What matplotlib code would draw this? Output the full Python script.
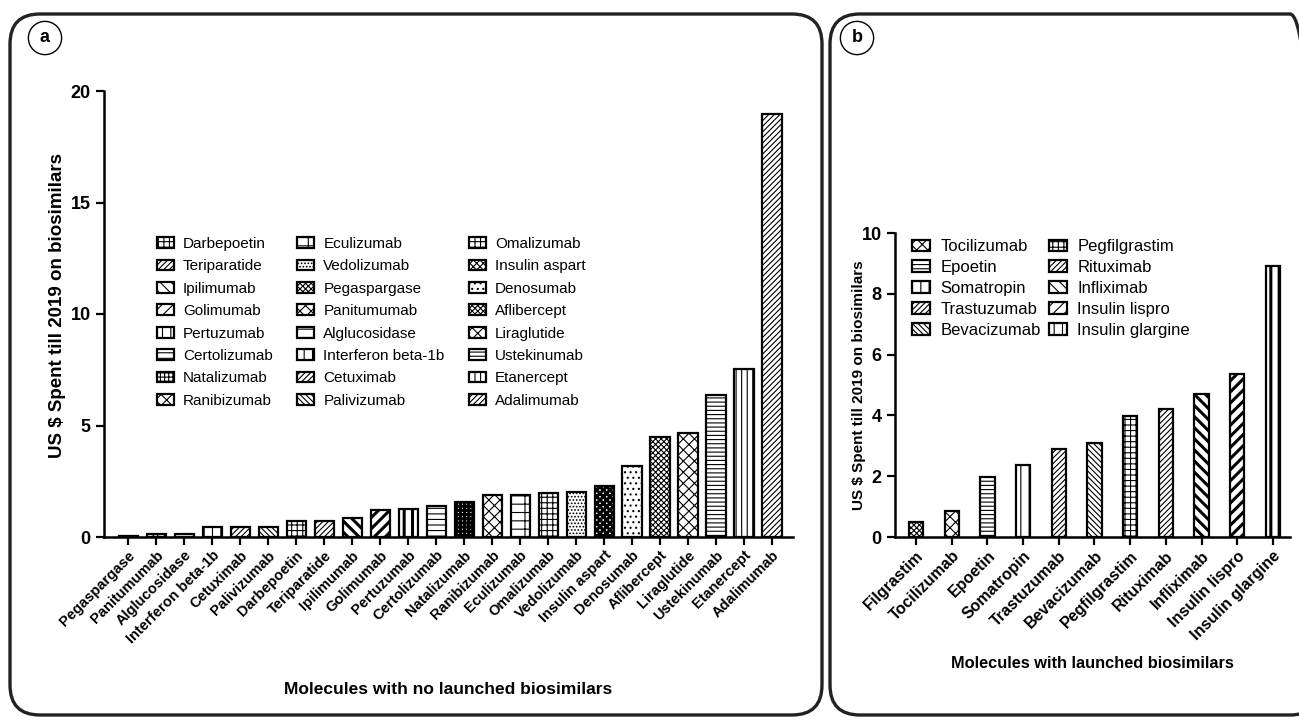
import matplotlib.pyplot as plt
from matplotlib.patches import FancyBboxPatch

plt.rcParams['font.family'] = ['Liberation Sans', 'DejaVu Sans']
plt.rcParams['hatch.linewidth'] = 0.8

# panel a: molecules with no launched biosimilars
mol_a = ['Pegaspargase', 'Panitumumab', 'Alglucosidase', 'Interferon beta-1b', 'Cetuximab',
         'Palivizumab', 'Darbepoetin', 'Teriparatide', 'Ipilimumab', 'Golimumab',
         'Pertuzumab', 'Certolizumab', 'Natalizumab', 'Ranibizumab', 'Eculizumab',
         'Omalizumab', 'Vedolizumab', 'Insulin aspart', 'Denosumab', 'Aflibercept',
         'Liraglutide', 'Ustekinumab', 'Etanercept', 'Adalimumab']
spend_a = [0.05, 0.15, 0.15, 0.45, 0.45, 0.45, 0.7, 0.7, 0.85, 1.2,
           1.25, 1.38, 1.58, 1.87, 1.87, 1.97, 2.04, 2.27, 3.17, 4.47,
           4.67, 6.37, 7.52, 18.95]
hatch_a = ['xxxxxx', 'xxx', '--', '||', '//////', '\\\\\\\\\\\\', '+++', '//////', '\\\\\\', '///',
           '||', '---', '++++', 'xxx', '+-', '+++', '.....', 'xxxxx', '...', 'xxxxxx',
           'xxx', '----', '|||', '//////']
legend_a = ['Darbepoetin', 'Teriparatide', 'Ipilimumab', 'Golimumab', 'Pertuzumab',
            'Certolizumab', 'Natalizumab', 'Ranibizumab',
            'Eculizumab', 'Vedolizumab', 'Pegaspargase', 'Panitumumab', 'Alglucosidase',
            'Interferon beta-1b', 'Cetuximab', 'Palivizumab',
            'Omalizumab', 'Insulin aspart', 'Denosumab', 'Aflibercept', 'Liraglutide',
            'Ustekinumab', 'Etanercept', 'Adalimumab']

# panel b: molecules with launched biosimilars
mol_b = ['Filgrastim', 'Tocilizumab', 'Epoetin', 'Somatropin', 'Trastuzumab', 'Bevacizumab',
         'Pegfilgrastim', 'Rituximab', 'Infliximab', 'Insulin lispro', 'Insulin glargine']
spend_b = [0.5, 0.87, 1.97, 2.38, 2.88, 3.08, 3.98, 4.2, 4.7, 5.35, 8.9]
hatch_b = ['xxxxxx', 'xxx', '----', '||', '//////', '\\\\\\\\\\\\', '+++', '//////', '\\\\\\', '///', '||']
legend_b = ['Tocilizumab', 'Epoetin', 'Somatropin', 'Trastuzumab', 'Bevacizumab',
            'Pegfilgrastim', 'Rituximab', 'Infliximab', 'Insulin lispro', 'Insulin glargine']

# bars whose stripes are drawn thick in the original
thick = {'Ipilimumab', 'Golimumab', 'Pertuzumab', 'Infliximab', 'Insulin lispro',
         'Insulin glargine', 'Natalizumab', 'Insulin aspart'}

fig = plt.figure(figsize=(12.99, 7.24), dpi=100)

# rounded panel frames (in inches so the corners stay round)
for x0, x1 in [(0.10, 8.22), (8.30, 13.20)]:
    fig.patches.append(FancyBboxPatch((x0, 0.09), x1 - x0, 7.01,
                                      boxstyle='round,pad=0,rounding_size=0.3',
                                      transform=fig.dpi_scale_trans, facecolor='none',
                                      edgecolor='#222222', linewidth=2.4, zorder=0))

for label, x in [('a', 45 / 1299), ('b', 857 / 1299)]:
    fig.text(x, 1 - 38 / 724, label, ha='center', va='center', fontsize=13, fontweight='bold',
             bbox=dict(boxstyle='circle,pad=0.45', facecolor='white', edgecolor='black', linewidth=1))


def draw_panel(ax, names, values, hatches, width, xlim, ylim, yticks, xlabel, legend_names,
               legend_anchor, ncol, colspacing, tick_fs, label_fs, ylabel_fs, legend_fs, lspace):
    bars = {}
    for i, (n, v, h) in enumerate(zip(names, values, hatches)):
        b = ax.bar(i, v, width=width, facecolor='white', edgecolor='black', hatch=h, linewidth=1.6)
        if n in thick and hasattr(b.patches[0], 'set_hatch_linewidth'):
            b.patches[0].set_hatch_linewidth(2.2)
        bars[n] = b
    ax.set_xlim(*xlim)
    ax.set_ylim(*ylim)
    ax.set_yticks(yticks)
    ax.set_xticks(range(len(names)))
    ax.set_xticklabels(names, rotation=45, ha='right', rotation_mode='anchor',
                       fontsize=tick_fs, fontweight='bold')
    for t in ax.get_yticklabels():
        t.set_fontweight('bold')
        t.set_fontsize(13)
    for s in ['top', 'right']:
        ax.spines[s].set_visible(False)
    for s in ['left', 'bottom']:
        ax.spines[s].set_linewidth(1.8)
    ax.tick_params(direction='out', width=1.6, length=6)
    ax.tick_params(axis='x', pad=2)
    ax.set_ylabel('US $ Spent till 2019 on biosimilars', fontsize=ylabel_fs, fontweight='bold')
    ax.set_xlabel(xlabel, fontsize=label_fs, fontweight='bold')
    ax.legend([bars[n] for n in legend_names], legend_names, ncol=ncol, loc='upper left',
              bbox_to_anchor=legend_anchor, frameon=False, fontsize=legend_fs, handlelength=1.1,
              handleheight=0.7, handletextpad=0.6, labelspacing=lspace, columnspacing=colspacing,
              borderpad=0)
    return ax


ax_a = fig.add_axes([104 / 1299, 1 - 537 / 724, 689 / 1299, 446 / 724])
draw_panel(ax_a, mol_a, spend_a, hatch_a, 0.68, (-0.86, 23.75), (0, 20), [0, 5, 10, 15, 20],
           'Molecules with no launched biosimilars', legend_a, (0.066, 0.69), 3, 1.6,
           10.5, 12.5, 13.5, 11, 0.55)
ax_a.xaxis.set_label_coords(0.5, -0.325)
ax_a.yaxis.set_label_coords(-0.055, 0.52)

ax_b = fig.add_axes([895 / 1299, 1 - 537 / 724, 395 / 1299, 304 / 724])
draw_panel(ax_b, mol_b, spend_b, hatch_b, 0.4, (-0.59, 10.48), (0, 10), [0, 2, 4, 6, 8, 10],
           'Molecules with launched biosimilars', legend_b, (0.022, 1.007), 2, 0.5,
           11.5, 11.8, 11, 12, 0.35)
ax_b.xaxis.set_label_coords(0.5, -0.39)
ax_b.yaxis.set_label_coords(-0.073, 0.5)

fig.savefig('out.png', dpi=100)
